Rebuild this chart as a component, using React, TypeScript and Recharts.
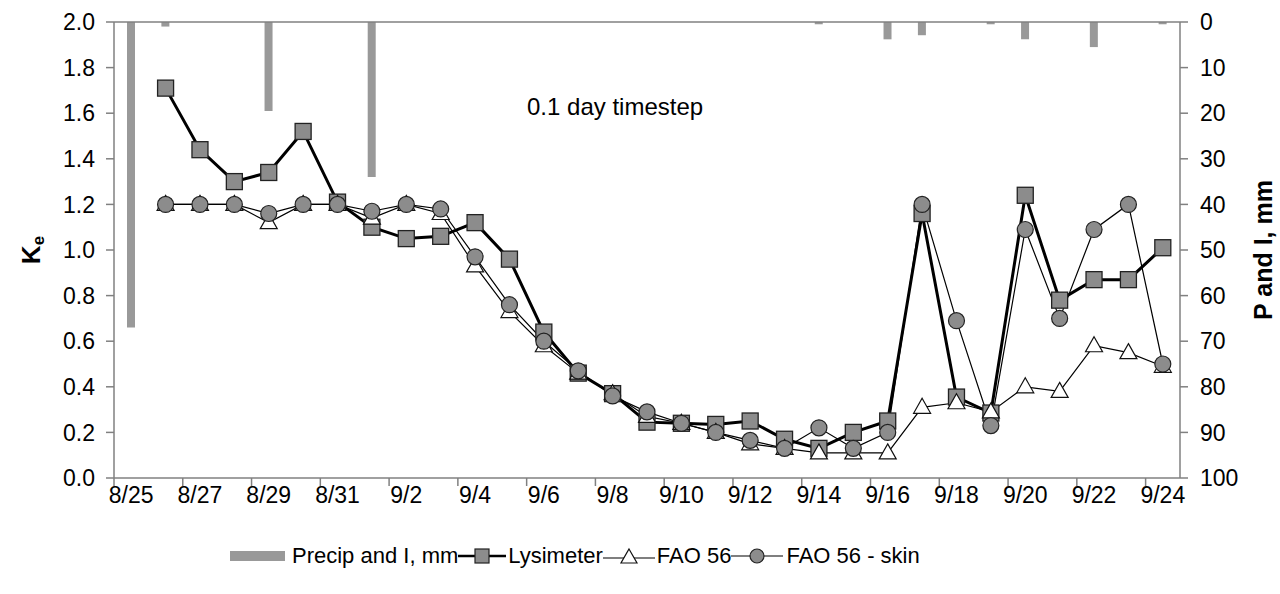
import React from 'react';
import {
  ComposedChart, Line, Bar, XAxis, YAxis, ReferenceLine,
} from 'recharts';

// Daily categories 8/25 .. 9/24
const dates = [
  '8/25', '8/26', '8/27', '8/28', '8/29', '8/30', '8/31', '9/1', '9/2', '9/3', '9/4',
  '9/5', '9/6', '9/7', '9/8', '9/9', '9/10', '9/11', '9/12', '9/13', '9/14', '9/15',
  '9/16', '9/17', '9/18', '9/19', '9/20', '9/21', '9/22', '9/23', '9/24',
];

const precip = [
  67, 1, 0, 0, 19.5, 0, 0, 34, 0, 0, 0,
  0, 0, 0, 0, 0, 0, 0, 0, 0, 0.5, 0,
  3.8, 2.9, 0, 0.5, 3.8, 0, 5.5, 0, 0.5,
];

const lysimeter = [
  null, 1.71, 1.44, 1.30, 1.34, 1.52, 1.21, 1.10, 1.05, 1.06, 1.12,
  0.96, 0.64, 0.46, 0.37, 0.245, 0.24, 0.235, 0.25, 0.17, 0.13, 0.20,
  0.25, 1.16, 0.355, 0.285, 1.24, 0.78, 0.87, 0.87, 1.01,
];

const fao56 = [
  null, 1.2, 1.2, 1.2, 1.12, 1.2, 1.2, 1.14, 1.2, 1.16, 0.93,
  0.73, 0.58, 0.46, 0.37, 0.27, 0.24, 0.20, 0.15, 0.13, 0.11, 0.11,
  0.11, 0.31, 0.33, 0.29, 0.40, 0.38, 0.58, 0.55, 0.49,
];

const faoSkin = [
  null, 1.2, 1.2, 1.2, 1.16, 1.2, 1.2, 1.17, 1.2, 1.18, 0.97,
  0.76, 0.60, 0.47, 0.36, 0.29, 0.24, 0.20, 0.165, 0.13, 0.22, 0.13,
  0.20, 1.2, 0.69, 0.23, 1.09, 0.70, 1.09, 1.2, 0.50,
];

const xTicks = [0, 2, 4, 6, 8, 10, 12, 14, 16, 18, 20, 22, 24, 26, 28, 30];
const keTicks = [0, 0.2, 0.4, 0.6, 0.8, 1.0, 1.2, 1.4, 1.6, 1.8, 2.0];
const pTicks = [0, 10, 20, 30, 40, 50, 60, 70, 80, 90, 100];

const data = dates.map((d, i) => ({
  x: i + 0.5,
  date: d,
  precip: precip[i],
  lys: lysimeter[i],
  fao: fao56[i],
  skin: faoSkin[i],
}));

const FONT = '"Liberation Sans", Arial, sans-serif';
const MARK_FILL = '#8c8c8c';
const BAR_FILL = '#999999';
const AXIS = '#808080';
const TICK_FS = 23;
const HALF_DAY = 1066 / 31 / 2;

const SquareDot = (p: any) => {
  if (p.cx == null || p.cy == null || p.value == null) return <g key={p.key} />;
  const s = 16;
  return <rect key={p.key} x={p.cx - s / 2} y={p.cy - s / 2} width={s} height={s} fill={MARK_FILL} stroke="#222" strokeWidth={1.3} />;
};
const TriDot = (p: any) => {
  if (p.cx == null || p.cy == null || p.value == null) return <g key={p.key} />;
  const w = 17, h = 15;
  const pts = `${p.cx},${p.cy - h * 0.6} ${p.cx + w / 2},${p.cy + h * 0.4} ${p.cx - w / 2},${p.cy + h * 0.4}`;
  return <polygon key={p.key} points={pts} fill="#fff" stroke="#111" strokeWidth={1.2} />;
};
const CircDot = (p: any) => {
  if (p.cx == null || p.cy == null || p.value == null) return <g key={p.key} />;
  return <circle key={p.key} cx={p.cx} cy={p.cy} r={8} fill={MARK_FILL} stroke="#222" strokeWidth={1.2} />;
};

const XTick = (p: any) => {
  const label = dates[p.payload.value] ?? '';
  return (
    <text x={p.x + HALF_DAY} y={p.y} dy={17} textAnchor="middle" fontFamily={FONT} fontSize={TICK_FS} fill="#000">
      {label}
    </text>
  );
};

const KeLabel = () => (
  <text x={0} y={0} transform="translate(40,250) rotate(-90)" textAnchor="middle"
    fontFamily={FONT} fontWeight="bold" fontSize={26} fill="#000">
    K<tspan fontSize={17} dy={4}>e</tspan>
  </text>
);
const PLabel = () => (
  <text x={0} y={0} transform="translate(1272,250) rotate(-90)" textAnchor="middle"
    fontFamily={FONT} fontWeight="bold" fontSize={25} fill="#000">
    P and I, mm
  </text>
);

const legendItem = (icon: React.ReactNode, label: string, gap: number) => (
  <div style={{ display: 'flex', alignItems: 'center' }}>
    {icon}
    <span style={{ marginLeft: gap }}>{label}</span>
  </div>
);

export default function App() {
  return (
    <div style={{ position: 'absolute', left: 0, top: 0, width: 1280, height: 594, background: '#fff' }}>
      <ComposedChart width={1280} height={594} data={data}
        margin={{ top: 22, right: 40, left: 54, bottom: 0 }}>
        <XAxis dataKey="x" type="number" domain={[0, 31]} ticks={xTicks}
          tick={<XTick />} height={116}
          stroke={AXIS} strokeWidth={1.5} tickSize={8} tickMargin={0} allowDataOverflow />
        <YAxis yAxisId="left" domain={[0, 2]} ticks={keTicks} width={60}
          tickFormatter={(v: number) => v.toFixed(1)}
          stroke={AXIS} strokeWidth={1.5} tickSize={8} tickMargin={11}
          tick={{ fill: '#000', fontSize: TICK_FS, fontFamily: FONT }}
          label={<KeLabel />} />
        <YAxis yAxisId="right" orientation="right" domain={[0, 100]} ticks={pTicks} reversed width={60}
          stroke={AXIS} strokeWidth={1.5} tickSize={8} tickMargin={12}
          tick={{ fill: '#000', fontSize: TICK_FS, fontFamily: FONT }}
          label={<PLabel />} />
        <ReferenceLine yAxisId="left" y={2} stroke={AXIS} strokeWidth={1.5} />
        <Bar yAxisId="right" dataKey="precip" fill={BAR_FILL} barSize={8} isAnimationActive={false} />
        <Line yAxisId="left" dataKey="lys" stroke="#000" strokeWidth={3} dot={SquareDot}
          isAnimationActive={false} activeDot={false} />
        <Line yAxisId="left" dataKey="fao" stroke="#000" strokeWidth={1.2} dot={TriDot}
          isAnimationActive={false} activeDot={false} />
        <Line yAxisId="left" dataKey="skin" stroke="#000" strokeWidth={1.2} dot={CircDot}
          isAnimationActive={false} activeDot={false} />
      </ComposedChart>
      <div style={{ position: 'absolute', left: 527, top: 93, fontFamily: FONT, fontSize: 24, color: '#000', whiteSpace: 'nowrap' }}>
        0.1 day timestep
      </div>
      <div style={{ position: 'absolute', left: 230, top: 543, height: 26, display: 'flex', alignItems: 'center',
        fontFamily: FONT, fontSize: 22, color: '#000', whiteSpace: 'nowrap' }}>
        {legendItem(<svg width={55} height={12}><rect x={0} y={1} width={55} height={10} fill={BAR_FILL} /></svg>, 'Precip and I, mm', 7)}
        {legendItem(<svg width={48} height={18}><line x1={0} y1={9} x2={48} y2={9} stroke="#000" strokeWidth={2.5} /><rect x={17} y={2} width={14} height={14} fill={MARK_FILL} stroke="#222" strokeWidth={1.2} /></svg>, 'Lysimeter', 2)}
        {legendItem(<svg width={52} height={18}><line x1={0} y1={11} x2={52} y2={11} stroke="#000" strokeWidth={1.2} /><polygon points="26,2 34,16 18,16" fill="#fff" stroke="#111" strokeWidth={1.2} /></svg>, 'FAO 56', 2)}
        {legendItem(<svg width={52} height={18}><line x1={0} y1={9} x2={52} y2={9} stroke="#000" strokeWidth={1.2} /><circle cx={26} cy={9} r={7} fill={MARK_FILL} stroke="#222" strokeWidth={1.2} /></svg>, 'FAO 56 - skin', 3)}
      </div>
    </div>
  );
}
